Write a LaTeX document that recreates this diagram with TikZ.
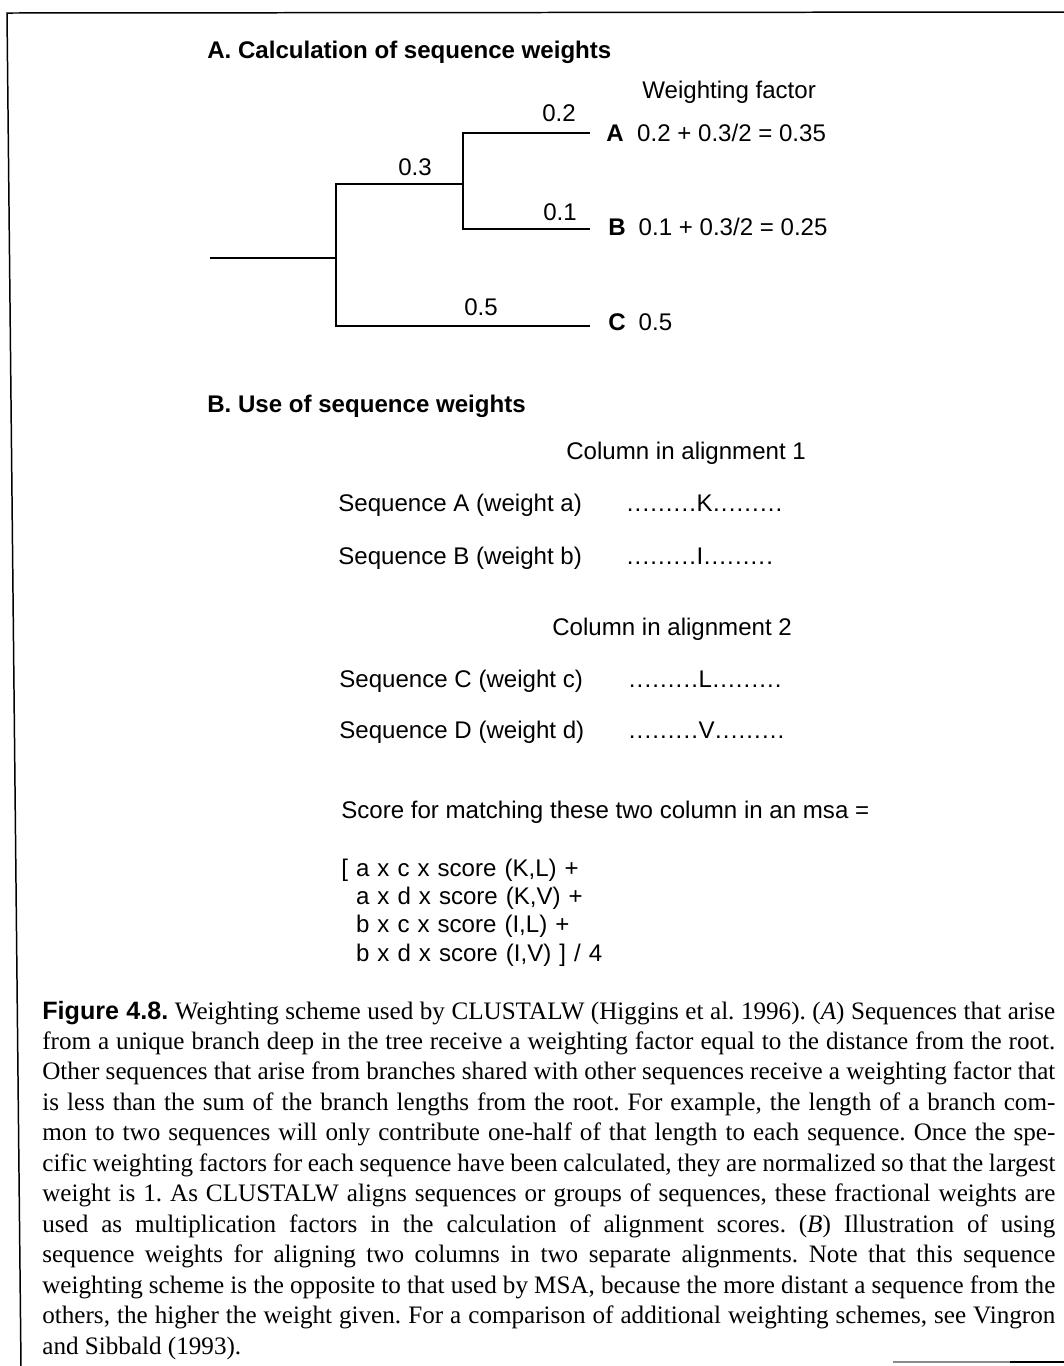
\documentclass[tikz,border=0pt]{standalone}
\usepackage{fontspec}
\setmainfont{Liberation Serif}
\setsansfont{Liberation Sans}
\usepackage{tikz}
\usetikzlibrary{positioning}

\newcommand{\seqdot}{\makebox[1.56mm]{.}}
\newcommand{\seqdots}{\seqdot\seqdot\seqdot\seqdot\seqdot\seqdot\seqdot\seqdot\seqdot}
\newcommand{\colres}[1]{\seqdots#1\seqdots}

\begin{document}
\begin{tikzpicture}[every node/.style={inner sep=0pt},
    txt/.style={font=\sffamily\fontsize{13.7}{16.2}\selectfont, anchor=base west},
    head/.style={font=\sffamily\bfseries\fontsize{13.7}{16.2}\selectfont, anchor=base west},
    blen/.style={font=\sffamily\fontsize{13.7}{16.2}\selectfont},
    branch/.style={line width=1.3pt},
    frame/.style={line width=0.85pt}]
  \useasboundingbox (0,0) rectangle (21.28,-27.32);

  % page frame
  \draw[frame] (0.42,-27.32) -- (0.14,-0.26) -- (21.28,-0.24);
  \draw[frame, black!45] (17.86,-27.24) -- (20.2,-27.24);
  \draw[frame] (20.2,-27.24) -- (21.28,-27.24);

  % A: tree
  \node[head] (heada) at (4.14,-1.16) {A. Calculation of sequence weights};
  \node[txt] (wfac) at (12.84,-1.96) {Weighting factor};

  \coordinate (root) at (4.2,-5.16);
  \coordinate (j1) at (6.72,-5.16);
  \coordinate (j2) at (9.26,-3.68);
  \coordinate (la) at (11.8,-2.66);
  \coordinate (lb) at (11.8,-4.58);
  \coordinate (lc) at (11.8,-6.52);

  \draw[branch] (root) -- (j1);
  \draw[branch] (j1) |- (j2);
  \draw[branch] (j1) |- (lc);
  \draw[branch] (j2) |- (la);
  \draw[branch] (j2) |- (lb);

  \node[blen] (l02) at (11.18,-2.26) {0.2};
  \node[blen] (l03) at (8.30,-3.34) {0.3};
  \node[blen] (l01) at (11.2,-4.24) {0.1};
  \node[blen] (l05) at (9.62,-6.14) {0.5};

  \node[txt] (wa) at (12.12,-2.82) {\textbf{A}\hspace{0.27cm}0.2 + 0.3/2 = 0.35};
  \node[txt] (wb) at (12.16,-4.70) {\textbf{B}\hspace{0.26cm}0.1 + 0.3/2 = 0.25};
  \node[txt] (wc) at (12.16,-6.60) {\textbf{C}\hspace{0.26cm}0.5};

  % B: columns
  \node[head] (headb) at (4.14,-8.24) {B. Use of sequence weights};
  \node[txt] (col1) at (11.32,-9.18) {Column in alignment 1};
  \node[txt] (seqa) at (6.76,-10.22) {Sequence A (weight a)};
  \node[txt] (dota) at (12.52,-10.22) {\colres{K}};
  \node[txt] (seqb) at (6.76,-11.28) {Sequence B (weight b)};
  \node[txt] (dotb) at (12.52,-11.28) {\colres{I}};
  \node[txt] (col2) at (11.04,-12.70) {Column in alignment 2};
  \node[txt] (seqc) at (6.78,-13.74) {Sequence C (weight c)};
  \node[txt] (dotc) at (12.56,-13.74) {\colres{L}};
  \node[txt] (seqd) at (6.78,-14.76) {Sequence D (weight d)};
  \node[txt] (dotd) at (12.56,-14.76) {\colres{V}};

  \node[txt] (score) at (6.82,-16.36) {Score for matching these two column in an msa =};
  \node[txt, text width=9cm, align=left] (sum) at (6.82,-17.52)
      {[ a x c x score (K,L) +\\
       \phantom{[}~a x d x score (K,V) +\\
       \phantom{[}~b x c x score (I,L) +\\
       \phantom{[}~b x d x score (I,V) ] / 4};

  % caption
  \node[anchor=base west, text width=20.26cm, align=justify,
        font=\rmfamily\fontsize{14.3}{17.35}\selectfont] (capt) at (0.84,-20.38)
      {\frenchspacing {\sffamily\bfseries Figure 4.8.} Weighting scheme used by CLUSTALW (Higgins et al.\ 1996). (\textit{A}) Sequences that arise\linebreak
       from a unique branch deep in the tree receive a weighting factor equal to the distance from the root.\linebreak
       Other sequences that arise from branches shared with other sequences receive a weighting factor that\linebreak
       is less than the sum of the branch lengths from the root. For example, the length of a branch com-\linebreak
       mon to two sequences will only contribute one-half of that length to each sequence. Once the spe-\linebreak
       cific weighting factors for each sequence have been calculated, they are normalized so that the largest\linebreak
       weight is 1. As CLUSTALW aligns sequences or groups of sequences, these fractional weights are\linebreak
       used as multiplication factors in the calculation of alignment scores. (\textit{B}) Illustration of using\linebreak
       sequence weights for aligning two columns in two separate alignments. Note that this sequence\linebreak
       weighting scheme is the opposite to that used by MSA, because the more distant a sequence from the\linebreak
       others, the higher the weight given. For a comparison of additional weighting schemes, see Vingron\linebreak
       and Sibbald (1993).};
\end{tikzpicture}
\end{document}
